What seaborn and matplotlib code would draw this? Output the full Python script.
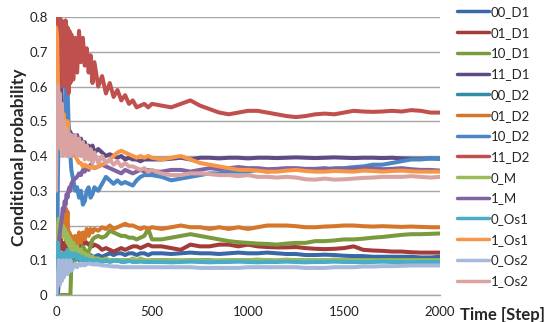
import numpy as np
import pandas as pd
import matplotlib
matplotlib.use("Agg")
import matplotlib.pyplot as plt
import seaborn as sns
from matplotlib.lines import Line2D

steps = [0, 5, 10, 15, 20, 25, 30, 35, 40, 45, 50, 55, 60, 65, 70, 75, 80,
         90, 100, 110, 120, 130, 140, 150, 160, 170, 180, 190, 200,
         220, 240, 260, 280, 300, 320, 340, 360, 380, 400, 420, 440, 460, 480, 500,
         550, 600, 650, 700, 750, 800, 850, 900, 950, 1000, 1050, 1100, 1150, 1200,
         1250, 1300, 1350, 1400, 1450, 1500, 1550, 1600, 1650, 1700, 1750, 1800,
         1850, 1900, 1950, 2000]

s_00_D1 = [0.0, 0.0, 0.0, 0.05, 0.10, 0.08, 0.11, 0.09, 0.12, 0.10, 0.11, 0.12, 0.10, 0.115, 0.11, 0.12, 0.11,
           0.115, 0.11, 0.12, 0.11, 0.115, 0.11, 0.12, 0.115, 0.11, 0.115, 0.11, 0.11,
           0.115, 0.11, 0.115, 0.12, 0.115, 0.12, 0.12, 0.115, 0.12, 0.12, 0.115, 0.12, 0.12, 0.115, 0.12,
           0.12, 0.118, 0.12, 0.122, 0.12, 0.12, 0.118, 0.12, 0.122, 0.12, 0.12, 0.122, 0.12, 0.118, 0.118,
           0.115, 0.115, 0.116, 0.115, 0.113, 0.112, 0.112, 0.11, 0.11, 0.11, 0.11, 0.11, 0.108, 0.108, 0.11]
s_01_D1 = [0.0, 0.0, 0.12, 0.15, 0.13, 0.16, 0.14, 0.15, 0.13, 0.15, 0.14, 0.16, 0.13, 0.15, 0.14, 0.13, 0.15,
           0.13, 0.14, 0.15, 0.14, 0.15, 0.14, 0.155, 0.15, 0.145, 0.15, 0.14, 0.145,
           0.14, 0.13, 0.135, 0.13, 0.125, 0.13, 0.135, 0.13, 0.135, 0.14, 0.14, 0.135, 0.14, 0.145, 0.14,
           0.14, 0.135, 0.13, 0.145, 0.14, 0.14, 0.145, 0.145, 0.14, 0.145, 0.14, 0.138, 0.137, 0.137, 0.138,
           0.135, 0.133, 0.132, 0.133, 0.135, 0.14, 0.13, 0.128, 0.127, 0.125, 0.125, 0.123, 0.122, 0.122, 0.122]
s_10_D1 = [0.0, 0.0, 0.0, 0.0, 0.0, 0.0, 0.0, 0.0, 0.0, 0.0, 0.0, 0.0, 0.0, 0.0, 0.0, 0.0, 0.09,
           0.10, 0.10, 0.11, 0.12, 0.13, 0.14, 0.13, 0.12, 0.125, 0.14, 0.16, 0.165,
           0.17, 0.165, 0.17, 0.185, 0.18, 0.175, 0.17, 0.17, 0.165, 0.165, 0.16, 0.165, 0.17, 0.19, 0.16,
           0.16, 0.165, 0.17, 0.175, 0.17, 0.165, 0.16, 0.155, 0.152, 0.15, 0.148, 0.147, 0.145, 0.148, 0.15,
           0.15, 0.155, 0.155, 0.157, 0.16, 0.16, 0.162, 0.165, 0.167, 0.17, 0.173, 0.175, 0.175, 0.176, 0.177]
s_11_D1 = [0.80, 0.80, 0.75, 0.70, 0.62, 0.60, 0.55, 0.52, 0.50, 0.52, 0.49, 0.50, 0.47, 0.48, 0.46, 0.47, 0.45,
           0.46, 0.45, 0.46, 0.44, 0.45, 0.43, 0.44, 0.42, 0.43, 0.42, 0.43, 0.41,
           0.42, 0.41, 0.40, 0.405, 0.40, 0.395, 0.40, 0.39, 0.395, 0.39, 0.39, 0.385, 0.39, 0.39, 0.39,
           0.39, 0.392, 0.395, 0.39, 0.395, 0.395, 0.393, 0.395, 0.395, 0.393, 0.395, 0.395, 0.394, 0.395, 0.396,
           0.395, 0.394, 0.395, 0.396, 0.395, 0.394, 0.395, 0.395, 0.394, 0.395, 0.393, 0.392, 0.392, 0.393, 0.392]
s_00_D2 = [0.0, 0.05, 0.12, 0.10, 0.08, 0.11, 0.09, 0.12, 0.10, 0.11, 0.10, 0.12, 0.11, 0.10, 0.12, 0.10, 0.11,
           0.11, 0.105, 0.11, 0.10, 0.105, 0.10, 0.10, 0.10, 0.10, 0.098, 0.10, 0.10,
           0.10, 0.10, 0.098, 0.10, 0.10, 0.098, 0.10, 0.10, 0.10, 0.098, 0.10, 0.10, 0.10, 0.098, 0.10,
           0.10, 0.10, 0.098, 0.10, 0.10, 0.10, 0.098, 0.10, 0.10, 0.10, 0.10, 0.10, 0.098, 0.10, 0.10,
           0.10, 0.10, 0.10, 0.10, 0.10, 0.10, 0.10, 0.10, 0.10, 0.10, 0.10, 0.10, 0.10, 0.10, 0.10]
s_01_D2 = [0.0, 0.15, 0.20, 0.18, 0.22, 0.19, 0.21, 0.17, 0.20, 0.23, 0.25, 0.20, 0.24, 0.16, 0.18, 0.13, 0.17,
           0.14, 0.17, 0.14, 0.18, 0.15, 0.18, 0.16, 0.19, 0.17, 0.19, 0.18, 0.19,
           0.185, 0.195, 0.19, 0.20, 0.19, 0.195, 0.20, 0.205, 0.20, 0.20, 0.195, 0.19, 0.195, 0.19, 0.195,
           0.19, 0.195, 0.20, 0.195, 0.195, 0.19, 0.195, 0.19, 0.195, 0.19, 0.195, 0.20, 0.20, 0.20, 0.198,
           0.195, 0.195, 0.197, 0.198, 0.20, 0.20, 0.198, 0.197, 0.198, 0.197, 0.196, 0.197, 0.196, 0.195, 0.195]
s_10_D2 = [0.0, 0.0, 0.35, 0.50, 0.42, 0.52, 0.46, 0.50, 0.55, 0.50, 0.60, 0.55, 0.60, 0.50, 0.45, 0.40, 0.36,
           0.33, 0.30, 0.31, 0.28, 0.30, 0.26, 0.27, 0.30, 0.31, 0.28, 0.29, 0.31,
           0.30, 0.32, 0.34, 0.33, 0.32, 0.33, 0.32, 0.325, 0.32, 0.315, 0.33, 0.34, 0.345, 0.345, 0.345,
           0.34, 0.33, 0.335, 0.34, 0.345, 0.35, 0.35, 0.355, 0.355, 0.355, 0.36, 0.355, 0.36, 0.36, 0.36,
           0.36, 0.36, 0.36, 0.365, 0.365, 0.368, 0.37, 0.375, 0.375, 0.38, 0.385, 0.39, 0.39, 0.393, 0.393]
s_11_D2 = [0.80, 0.82, 0.80, 0.66, 0.82, 0.63, 0.79, 0.60, 0.78, 0.62, 0.79, 0.60, 0.77, 0.58, 0.76, 0.61, 0.75,
           0.62, 0.74, 0.64, 0.76, 0.67, 0.74, 0.66, 0.71, 0.64, 0.69, 0.61, 0.67,
           0.60, 0.63, 0.58, 0.61, 0.57, 0.59, 0.56, 0.575, 0.55, 0.56, 0.54, 0.545, 0.55, 0.54, 0.55,
           0.545, 0.54, 0.55, 0.56, 0.545, 0.535, 0.525, 0.52, 0.525, 0.53, 0.53, 0.525, 0.52, 0.515, 0.512,
           0.515, 0.52, 0.522, 0.52, 0.525, 0.53, 0.528, 0.527, 0.528, 0.53, 0.528, 0.532, 0.53, 0.525, 0.525]
s_0_M = [0.0, 0.10, 0.20, 0.22, 0.18, 0.21, 0.19, 0.20, 0.17, 0.19, 0.16, 0.18, 0.15, 0.17, 0.14, 0.16, 0.13,
         0.15, 0.12, 0.14, 0.12, 0.13, 0.115, 0.12, 0.11, 0.115, 0.11, 0.11, 0.105,
         0.105, 0.10, 0.105, 0.10, 0.10, 0.10, 0.10, 0.10, 0.10, 0.105, 0.10, 0.105, 0.10, 0.10, 0.10,
         0.10, 0.10, 0.10, 0.10, 0.10, 0.098, 0.10, 0.10, 0.10, 0.10, 0.102, 0.10, 0.10, 0.102, 0.10,
         0.10, 0.10, 0.10, 0.102, 0.10, 0.10, 0.10, 0.10, 0.10, 0.10, 0.10, 0.10, 0.10, 0.10, 0.10]
s_1_M = [0.0, 0.05, 0.10, 0.15, 0.18, 0.20, 0.22, 0.25, 0.24, 0.27, 0.26, 0.29, 0.28, 0.30, 0.31, 0.30, 0.32,
         0.33, 0.335, 0.34, 0.35, 0.345, 0.36, 0.355, 0.37, 0.36, 0.375, 0.37, 0.365,
         0.37, 0.375, 0.37, 0.365, 0.36, 0.355, 0.35, 0.36, 0.355, 0.35, 0.355, 0.36, 0.355, 0.36, 0.355,
         0.355, 0.36, 0.36, 0.355, 0.36, 0.365, 0.362, 0.365, 0.368, 0.365, 0.365, 0.362, 0.363, 0.365, 0.365,
         0.363, 0.363, 0.365, 0.362, 0.363, 0.363, 0.365, 0.365, 0.362, 0.363, 0.365, 0.362, 0.36, 0.36, 0.358]
s_0_Os1 = [0.0, 0.10, 0.15, 0.08, 0.12, 0.06, 0.11, 0.09, 0.12, 0.10, 0.12, 0.11, 0.13, 0.10, 0.12, 0.11, 0.12,
           0.11, 0.12, 0.105, 0.115, 0.10, 0.11, 0.10, 0.105, 0.10, 0.10, 0.095, 0.10,
           0.10, 0.095, 0.10, 0.095, 0.098, 0.10, 0.095, 0.095, 0.098, 0.095, 0.095, 0.096, 0.095, 0.095, 0.095,
           0.095, 0.094, 0.095, 0.096, 0.095, 0.094, 0.095, 0.095, 0.096, 0.095, 0.094, 0.095, 0.095, 0.096, 0.095,
           0.094, 0.095, 0.095, 0.096, 0.095, 0.095, 0.094, 0.095, 0.096, 0.095, 0.095, 0.094, 0.095, 0.095, 0.095]
s_1_Os1 = [0.77, 0.75, 0.62, 0.56, 0.52, 0.50, 0.55, 0.50, 0.52, 0.48, 0.50, 0.47, 0.50, 0.46, 0.44, 0.42, 0.41,
           0.42, 0.40, 0.39, 0.38, 0.38, 0.37, 0.375, 0.37, 0.37, 0.365, 0.37, 0.365,
           0.37, 0.375, 0.38, 0.39, 0.40, 0.41, 0.415, 0.41, 0.405, 0.40, 0.395, 0.40, 0.395, 0.40, 0.395,
           0.39, 0.395, 0.40, 0.39, 0.38, 0.375, 0.37, 0.365, 0.36, 0.36, 0.358, 0.355, 0.355, 0.358, 0.36,
           0.357, 0.355, 0.355, 0.357, 0.356, 0.355, 0.358, 0.357, 0.355, 0.357, 0.358, 0.356, 0.355, 0.355, 0.355]
s_0_Os2 = [0.0, 0.02, 0.05, 0.10, 0.03, 0.08, 0.04, 0.10, 0.05, 0.09, 0.06, 0.10, 0.06, 0.09, 0.07, 0.10, 0.07,
           0.08, 0.09, 0.08, 0.09, 0.085, 0.09, 0.085, 0.09, 0.09, 0.09, 0.088, 0.088,
           0.088, 0.085, 0.085, 0.083, 0.082, 0.082, 0.08, 0.08, 0.08, 0.08, 0.08, 0.08, 0.08, 0.08, 0.08,
           0.08, 0.08, 0.08, 0.08, 0.078, 0.078, 0.078, 0.078, 0.078, 0.08, 0.08, 0.08, 0.08, 0.08, 0.08,
           0.078, 0.078, 0.078, 0.08, 0.08, 0.08, 0.082, 0.082, 0.083, 0.083, 0.084, 0.085, 0.085, 0.085, 0.085]
s_1_Os2 = [0.30, 0.55, 0.60, 0.45, 0.58, 0.42, 0.55, 0.40, 0.50, 0.41, 0.48, 0.40, 0.47, 0.40, 0.46, 0.40, 0.46,
           0.41, 0.46, 0.40, 0.45, 0.40, 0.44, 0.39, 0.43, 0.39, 0.42, 0.38, 0.41,
           0.38, 0.40, 0.38, 0.39, 0.375, 0.385, 0.37, 0.38, 0.37, 0.37, 0.365, 0.36, 0.365, 0.355, 0.36,
           0.35, 0.345, 0.345, 0.35, 0.35, 0.348, 0.345, 0.345, 0.342, 0.345, 0.34, 0.34, 0.338, 0.34, 0.338,
           0.333, 0.332, 0.335, 0.332, 0.333, 0.335, 0.337, 0.338, 0.34, 0.34, 0.34, 0.342, 0.34, 0.338, 0.34]

series_names = ["00_D1", "01_D1", "10_D1", "11_D1", "00_D2", "01_D2", "10_D2", "11_D2",
                "0_M", "1_M", "0_Os1", "1_Os1", "0_Os2", "1_Os2"]
series_values = [s_00_D1, s_01_D1, s_10_D1, s_11_D1, s_00_D2, s_01_D2, s_10_D2, s_11_D2,
                 s_0_M, s_1_M, s_0_Os1, s_1_Os1, s_0_Os2, s_1_Os2]
colors = ["#3A68A6", "#A33B38", "#7A9A3D", "#5F4A85", "#318CA6", "#D5762B", "#4A86C5", "#C0504D",
          "#9BBB59", "#8064A2", "#4BACC6", "#F79646", "#A7B9DA", "#D9A3A1"]
x_ticks = [0, 500, 1000, 1500, 2000]
y_ticks = [0, 0.1, 0.2, 0.3, 0.4, 0.5, 0.6, 0.7, 0.8]

rows = []
for name, vals in zip(series_names, series_values):
    for t, v in zip(steps, vals):
        rows.append((name, t, v))
df = pd.DataFrame(rows, columns=["series", "step", "prob"])

sns.set_style("white")
plt.rcParams["font.family"] = ["Lato", "DejaVu Sans"]

fig = plt.figure(figsize=(5.47, 3.22), dpi=100)
ax = fig.add_axes([56 / 547, 1 - 295 / 322, (440 - 56) / 547, (295 - 17) / 322])

palette = dict(zip(series_names, colors))
sns.lineplot(data=df, x="step", y="prob", hue="series", hue_order=series_names,
             palette=palette, linewidth=2.9, legend=False, ax=ax, estimator=None,
             sort=False)
for ln in ax.get_lines():
    ln.set_solid_joinstyle("round")

ax.set_xlim(0, 2000)
ax.set_ylim(0, 0.8)
ax.set_xticks(x_ticks)
ax.set_xticklabels([str(v) for v in x_ticks])
ax.set_yticks(y_ticks)
ax.set_yticklabels(["0"] + [f"{v:.1f}" for v in y_ticks[1:]])
ax.yaxis.grid(True, color="#A6A6A6", linewidth=1.0)
ax.set_axisbelow(True)
for s in ["top", "right", "left"]:
    ax.spines[s].set_visible(False)
ax.spines["bottom"].set_color("#A6A6A6")
ax.spines["bottom"].set_linewidth(1.0)
ax.tick_params(axis="x", length=4, width=1, color="#A6A6A6", labelsize=9.5,
               labelcolor="#222222", pad=4)
ax.tick_params(axis="y", length=0, labelsize=9.5, labelcolor="#222222", pad=6)
ax.set_xlabel("")
ax.set_ylabel("Conditional probability", fontsize=12.5, fontweight="bold")
ax.yaxis.set_label_coords(-0.076, 0.496)

fig.text(460 / 547, 1 - 315 / 322, "Time [Step]", fontsize=12, fontweight="bold",
         ha="left", va="center")

handles = [Line2D([0], [0], color=c, linewidth=2.5) for c in colors]
fig.legend(handles, series_names, loc="upper left", bbox_to_anchor=(457 / 547, 1 - 6 / 322),
           frameon=False, fontsize=9.5, handlelength=2.4, handletextpad=0.15,
           labelspacing=0.66, borderaxespad=0, borderpad=0)

fig.savefig("out.png", dpi=100)
